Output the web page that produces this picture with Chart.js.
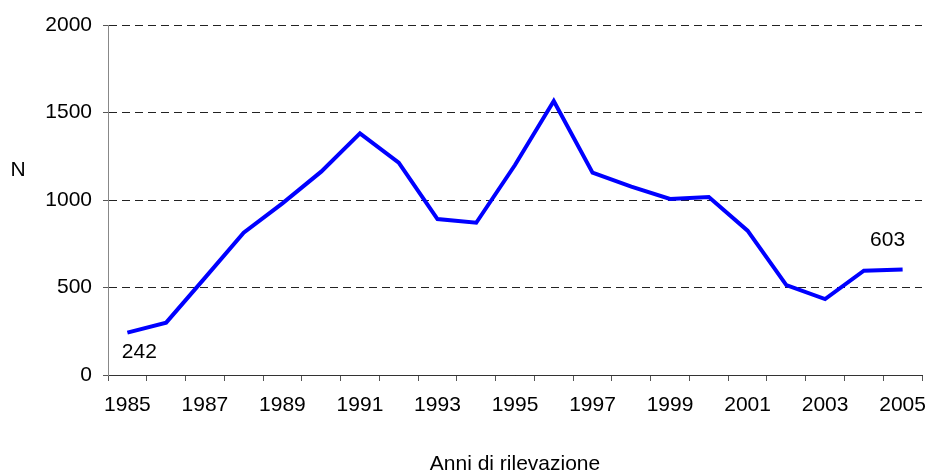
<!DOCTYPE html>
<html>
<head>
<meta charset="utf-8">
<script src="https://cdn.jsdelivr.net/npm/chart.js"></script>
<style>
  html, body { margin: 0; padding: 0; background: #fff; }
  #wrap { width: 927px; height: 475px; }
</style>
</head>
<body>
<div id="wrap"><canvas id="chart" width="927" height="475"></canvas></div>
<script>
// data
const years = ['1985','1986','1987','1988','1989','1990','1991','1992','1993','1994','1995',
               '1996','1997','1998','1999','2000','2001','2002','2003','2004','2005']
const counts = [242, 299, 555, 813, 981, 1162, 1381, 1213, 891, 870, 1200,
                1566, 1156, 1076, 1006, 1017, 825, 514, 434, 596, 603]
const yTicks = [0, 500, 1000, 1500, 2000]
const labelled = { 0: { dx: 12, dy: 20 }, 20: { dx: -15, dy: -29 } }  // which points get a value label

const fontFam = '"Liberation Sans", Arial, sans-serif'
const fontSize = 21

// "N" sits flat next to the y axis, plus the two value labels
const extras = {
  id: 'extras',
  afterDraw(chart) {
    const ctx = chart.ctx
    ctx.save()
    ctx.font = fontSize + 'px ' + fontFam
    ctx.fillStyle = '#000'
    ctx.textAlign = 'center'
    ctx.textBaseline = 'middle'
    ctx.fillText('N', 18, 170)
    const meta = chart.getDatasetMeta(0)
    Object.keys(labelled).forEach((i) => {
      const pt = meta.data[i]
      ctx.fillText(String(counts[i]), pt.x + labelled[i].dx, pt.y + labelled[i].dy)
    })
    ctx.restore()
  }
}

new Chart(document.getElementById('chart'), {
  type: 'line',
  data: {
    labels: years,
    datasets: [{
      data: counts,
      borderColor: '#0000ff',
      borderWidth: 4,
      pointRadius: 0,
      tension: 0,
      fill: false
    }]
  },
  options: {
    responsive: false,
    animation: false,
    layout: { padding: { top: 25, right: 5, left: 0, bottom: 0 } },
    plugins: { legend: { display: false }, tooltip: { enabled: false } },
    scales: {
      x: {
        offset: true,
        grid: { offset: true, drawOnChartArea: false, drawTicks: true, tickLength: 6, tickColor: '#555' },
        border: { color: '#333', width: 1 },
        ticks: {
          autoSkip: false,
          maxRotation: 0,
          padding: 12,
          color: '#000',
          font: { family: fontFam, size: fontSize },
          callback: function (v, i) { return i % 2 === 0 ? years[i] : '' }
        },
        title: {
          display: true,
          text: 'Anni di rilevazione',
          color: '#000',
          font: { family: fontFam, size: fontSize },
          padding: { top: 0, bottom: -2 }
        },
        afterFit(scale) {
          scale.height = 100
          scale.paddingLeft = 0
          scale.paddingRight = 0
        }
      },
      y: {
        min: 0,
        max: 2000,
        afterBuildTicks(scale) { scale.ticks = yTicks.map((v) => ({ value: v })) },
        grid: {
          color: '#222',
          tickBorderDash: [],
          tickLength: 5,
          tickColor: '#555'
        },
        border: { color: '#888', width: 1, dash: [8, 5] },
        ticks: {
          padding: 11,
          color: '#000',
          font: { family: fontFam, size: fontSize },
          callback: (v) => String(v)
        },
        afterFit(scale) { scale.width = 108 }
      }
    }
  },
  plugins: [extras]
})
</script>
</body>
</html>
